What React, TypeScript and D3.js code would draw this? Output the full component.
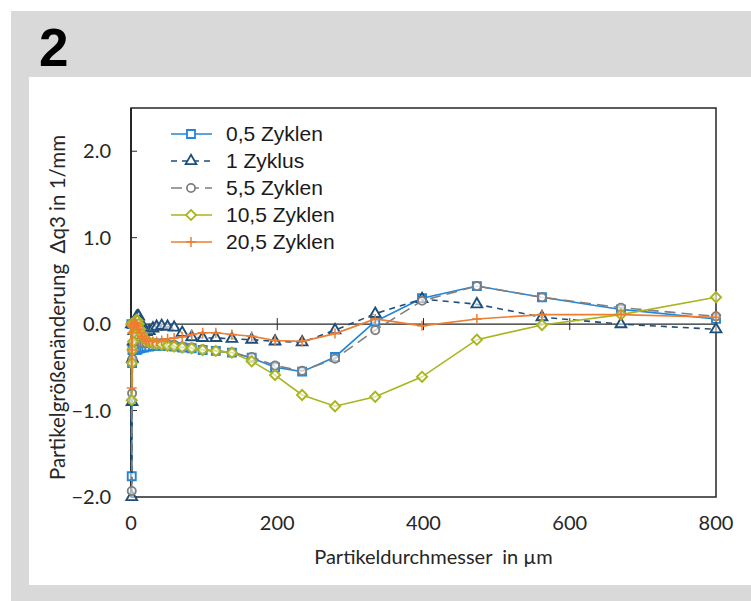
import React from "react"
import * as d3 from "d3"

// Partikelklassen in µm
const sizes = [0.5, 1, 1.5, 2, 3, 4, 5, 6, 7.5, 9, 10.5, 12.5, 15, 18, 21, 25, 30, 35, 42, 50,
  59, 70, 83, 98, 116, 138, 165, 197, 234, 279, 334, 398, 473, 562, 670, 800]

const zyklen05 = [0, -1.76, -0.45, -0.3, -0.28, -0.28, -0.29, -0.3, -0.3, -0.29, -0.28, -0.28, -0.27, -0.27, -0.26, -0.26, -0.25, -0.25, -0.25, -0.25,
  -0.26, -0.27, -0.28, -0.3, -0.31, -0.33, -0.39, -0.5, -0.55, -0.38, 0.03, 0.3, 0.44, 0.31, 0.17, 0.06]
const zyklus1 = [0, -2.0, -0.9, -0.4, -0.2, -0.08, 0.0, 0.05, 0.08, 0.09, 0.09, 0.03, -0.05, -0.08, -0.09, -0.08, -0.05, -0.03, -0.02, -0.03,
  -0.04, -0.1, -0.15, -0.16, -0.16, -0.17, -0.18, -0.2, -0.21, -0.07, 0.12, 0.29, 0.23, 0.08, 0.0, -0.06]
const zyklen55 = [0, -1.93, -0.8, -0.4, -0.3, -0.25, -0.2, -0.15, -0.12, -0.12, -0.15, -0.2, -0.22, -0.22, -0.22, -0.22, -0.22, -0.22, -0.22, -0.23,
  -0.24, -0.26, -0.27, -0.29, -0.31, -0.33, -0.38, -0.48, -0.54, -0.4, -0.07, 0.27, 0.44, 0.31, 0.19, 0.09]
const zyklen105 = [0, -0.88, -0.45, -0.3, -0.2, -0.1, -0.02, 0.03, 0.05, 0.04, 0.0, -0.06, -0.12, -0.16, -0.19, -0.21, -0.22, -0.23, -0.24, -0.25,
  -0.26, -0.27, -0.28, -0.3, -0.31, -0.33, -0.43, -0.59, -0.82, -0.95, -0.84, -0.61, -0.18, -0.01, 0.11, 0.31]
const zyklen205 = [0, -0.74, -0.3, -0.1, -0.03, 0.0, 0.02, 0.02, 0.0, -0.03, -0.06, -0.1, -0.14, -0.17, -0.19, -0.2, -0.2, -0.2, -0.19, -0.17,
  -0.16, -0.15, -0.12, -0.1, -0.1, -0.12, -0.14, -0.19, -0.2, -0.11, 0.06, -0.02, 0.06, 0.11, 0.11, 0.08]

const seriesNames = ["0,5 Zyklen", "1 Zyklus", "5,5 Zyklen", "10,5 Zyklen", "20,5 Zyklen"]
const xTicks = [0, 200, 400, 600, 800]
const yTicks = [-2, -1, 0, 1, 2]

const styles = [
  { values: zyklen05, color: "#2385d9", dash: "", marker: "square" },
  { values: zyklus1, color: "#1f4e79", dash: "6,5", marker: "triangle" },
  { values: zyklen55, color: "#7f7f7f", dash: "11,6", marker: "circle" },
  { values: zyklen105, color: "#a9b51d", dash: "", marker: "diamond" },
  { values: zyklen205, color: "#ed7d31", dash: "", marker: "plus" },
]

const markerPath = (kind: string) => {
  if (kind === "square") return d3.symbol(d3.symbolSquare, 64)()
  if (kind === "triangle") return d3.symbol(d3.symbolTriangle, 50)()
  if (kind === "circle") return d3.symbol(d3.symbolCircle, 52)()
  if (kind === "diamond") return d3.symbol(d3.symbolSquare, 52)()
  return "M-5,0H5M0,-5V5"
}

export default function App() {
  const margin = { left: 131, right: 35, top: 108, bottom: 104 }
  const width = 751
  const height = 601

  const x = d3.scaleLinear().domain([0, 800]).range([margin.left, width - margin.right])
  const y = d3.scaleLinear().domain([-2, 2.5]).range([height - margin.bottom, margin.top])

  const line = d3.line<number>()
    .x((d, i) => x(sizes[i]))
    .y(d => y(d))

  const fmt = d3.format(".1f")
  const tickFont = "Lato, 'Open Sans', sans-serif"

  return (
    <svg width={width} height={height} style={{ position: "absolute", left: 0, top: 0 }}>
      <rect x={11} y={11} width={width - 11} height={height - 11} fill="#d9d9d9" />
      <rect x={29} y={77} width={width - 29} height={585 - 77} fill="#ffffff" />
      <text x={39} y={66} fontFamily="'Liberation Sans', Arial, sans-serif" fontWeight="bold" fontSize={53}>2</text>

      {/* Rahmen */}
      <rect x={x(0)} y={y(2.5)} width={x(800) - x(0)} height={y(-2) - y(2.5)} fill="none" stroke="#262626" strokeWidth={1.5} />
      <line x1={x(0)} x2={x(0)} y1={y(2.5)} y2={y(-2)} stroke="#262626" strokeWidth={2} />
      <line x1={x(0)} x2={x(800)} y1={y(0)} y2={y(0)} stroke="#262626" strokeWidth={1.2} />
      {xTicks.map(t => (
        <line key={"xt" + t} x1={x(t)} x2={x(t)} y1={y(0) - 6} y2={y(0) + 6} stroke="#262626" strokeWidth={1} />
      ))}
      {yTicks.map(t => (
        <line key={"yt" + t} x1={x(0)} x2={x(0) + 6} y1={y(t)} y2={y(t)} stroke="#262626" strokeWidth={1} />
      ))}

      {/* Achsenbeschriftung */}
      {yTicks.map(t => (
        <text key={"yl" + t} x={x(0) - 20} y={y(t)} dy="0.35em" textAnchor="end" fontFamily={tickFont} fontSize={20} fill="#262626">{fmt(t)}</text>
      ))}
      {xTicks.map(t => (
        <text key={"xl" + t} x={x(t)} y={y(-2) + 26} dy="0.35em" textAnchor="middle" fontFamily={tickFont} fontSize={20} fill="#262626">{t}</text>
      ))}
      <text x={(x(0) + x(800)) / 2 + 10} y={557} dy="0.35em" textAnchor="middle" fontFamily={tickFont} fontSize={20} fill="#262626" style={{ whiteSpace: "pre" }}>
        {"Partikeldurchmesser  in µm"}
      </text>
      <text transform={`translate(58,${(y(2.5) + y(-2)) / 2 + 5}) rotate(-90)`} dy="0.35em" textAnchor="middle" fontFamily={tickFont} fontSize={20.5} fill="#262626" style={{ whiteSpace: "pre" }}>
        {"Partikelgrößenänderung  Δq3 in 1/mm"}
      </text>

      {/* Datenreihen */}
      {styles.map((s, k) => (
        <g key={"s" + k}>
          <path d={line(s.values) || ""} fill="none" stroke={s.color} strokeWidth={1.6} strokeDasharray={s.dash} />
          {s.values.map((v, i) => (
            <path key={i} d={markerPath(s.marker) || ""}
              transform={`translate(${x(sizes[i])},${y(v)})${s.marker === "diamond" ? " rotate(45)" : ""}`}
              fill={s.marker === "plus" ? "none" : "#ffffff"} fillOpacity={0.6}
              stroke={s.color} strokeWidth={s.marker === "plus" ? 1.5 : 1.9} />
          ))}
        </g>
      ))}

      {/* Legende */}
      {styles.map((s, k) => {
        const ly = 134 + k * 27
        return (
          <g key={"l" + k}>
            <line x1={171} x2={212} y1={ly} y2={ly} stroke={s.color} strokeWidth={1.6} strokeDasharray={s.dash} />
            <path d={markerPath(s.marker) || ""}
              transform={`translate(191,${ly})${s.marker === "diamond" ? " rotate(45)" : ""}`}
              fill={s.marker === "plus" ? "none" : "#ffffff"}
              stroke={s.color} strokeWidth={s.marker === "plus" ? 1.5 : 1.8} />
            <text x={226} y={ly} dy="0.35em" fontFamily="'Liberation Sans', Arial, sans-serif" fontSize={21} fill="#1a1a1a">{seriesNames[k]}</text>
          </g>
        )
      })}
    </svg>
  )
}
